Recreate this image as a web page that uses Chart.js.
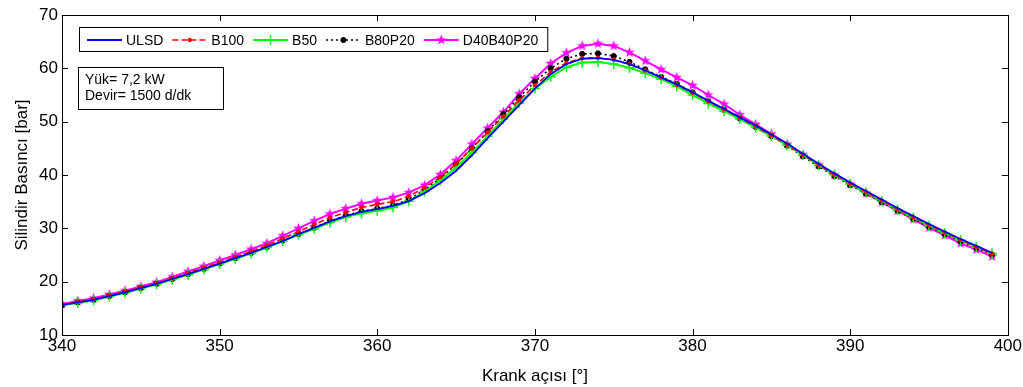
<!DOCTYPE html>
<html>
<head>
<meta charset="utf-8">
<script src="https://cdn.jsdelivr.net/npm/chart.js@4.4.1/dist/chart.umd.min.js"></script>
<style>
  html, body { margin: 0; padding: 0; background: #fff; }
  #wrap { width: 1023px; height: 387px; position: relative; }
</style>
</head>
<body>
<div id="wrap"><canvas id="pressureChart"></canvas></div>
<script>
"use strict";

// crank angle [deg]
const crankAngle = [340, 341, 342, 343, 344, 345, 346, 347, 348, 349,
  350, 351, 352, 353, 354, 355, 356, 357, 358, 359,
  360, 361, 362, 363, 364, 365, 366, 367, 368, 369,
  370, 371, 372, 373, 374, 375, 376, 377, 378, 379,
  380, 381, 382, 383, 384, 385, 386, 387, 388, 389,
  390, 391, 392, 393, 394, 395, 396, 397, 398, 399];

// cylinder pressure [bar]
const ulsd = [15.6, 16.1, 16.6, 17.3, 18.0, 18.8, 19.6, 20.5, 21.4, 22.4,
  23.4, 24.4, 25.4, 26.5, 27.6, 28.9, 30.1, 31.3, 32.3, 33.1,
  33.6, 34.2, 35.1, 36.6, 38.5, 40.8, 43.7, 46.9, 50.0, 53.1,
  56.2, 58.9, 60.8, 61.8, 61.9, 61.6, 60.8, 59.6, 58.3, 57.0,
  55.5, 53.9, 52.4, 50.8, 49.3, 47.6, 45.9, 44.0, 42.1, 40.3,
  38.6, 37.0, 35.4, 33.8, 32.3, 30.8, 29.4, 28.0, 26.7, 25.4];
const b100 = [15.7, 16.2, 16.7, 17.4, 18.1, 18.9, 19.7, 20.6, 21.6, 22.6,
  23.6, 24.6, 25.7, 26.8, 28.1, 29.4, 30.7, 32.0, 33.0, 33.9,
  34.5, 35.0, 36.0, 37.6, 39.6, 42.1, 45.0, 48.0, 51.0, 54.0,
  56.8, 59.3, 61.0, 61.9, 62.0, 61.6, 60.8, 59.6, 58.3, 56.9,
  55.4, 53.8, 52.3, 50.7, 49.1, 47.4, 45.7, 43.8, 41.9, 40.1,
  38.4, 36.8, 35.2, 33.6, 32.1, 30.6, 29.2, 27.8, 26.5, 25.2];
const b50 = [15.6, 16.0, 16.5, 17.2, 17.9, 18.7, 19.5, 20.4, 21.3, 22.3,
  23.3, 24.3, 25.3, 26.4, 27.6, 28.8, 29.9, 31.1, 32.1, 32.8,
  33.3, 33.9, 35.1, 36.9, 39.0, 41.4, 44.2, 47.3, 50.5, 53.5,
  56.2, 58.4, 60.2, 61.1, 61.2, 60.8, 60.1, 59.1, 58.0, 56.6,
  55.0, 53.4, 52.0, 50.5, 48.9, 47.3, 45.6, 43.7, 41.8, 40.0,
  38.3, 36.7, 35.1, 33.5, 32.0, 30.5, 29.1, 27.8, 26.5, 25.3];
const b80p20 = [15.6, 16.1, 16.6, 17.3, 18.0, 18.8, 19.6, 20.5, 21.4, 22.4,
  23.4, 24.4, 25.4, 26.5, 27.7, 28.9, 30.1, 31.4, 32.4, 33.2,
  33.7, 34.3, 35.4, 37.2, 39.4, 42.0, 45.0, 48.2, 51.4, 54.6,
  57.5, 60.0, 61.8, 62.7, 62.8, 62.3, 61.2, 59.8, 58.4, 57.1,
  55.5, 53.8, 52.2, 50.6, 49.0, 47.3, 45.5, 43.5, 41.6, 39.8,
  38.1, 36.5, 34.9, 33.3, 31.8, 30.3, 28.9, 27.6, 26.3, 25.1];
const d40b40p20 = [15.8, 16.4, 16.9, 17.6, 18.3, 19.1, 19.9, 20.9, 21.9, 22.9,
  24.0, 25.0, 26.1, 27.2, 28.6, 30.0, 31.4, 32.7, 33.7, 34.6,
  35.2, 35.8, 36.7, 38.1, 40.1, 42.7, 45.8, 48.8, 51.8, 55.2,
  58.1, 60.9, 62.9, 64.2, 64.6, 64.2, 63.0, 61.4, 59.8, 58.3,
  56.8, 55.0, 53.3, 51.3, 49.5, 47.7, 45.8, 43.8, 41.9, 40.0,
  38.3, 36.6, 34.9, 33.3, 31.7, 30.1, 28.7, 27.2, 26.0, 24.7];

const seriesNames = ["ULSD", "B100", "B50", "B80P20", "D40B40P20"];
const xTicks = [340, 350, 360, 370, 380, 390, 400];
const yTicks = [10, 20, 30, 40, 50, 60, 70];
const noteLines = ["Yük= 7,2 kW", "Devir= 1500 d/dk"];

const FONT = "'Liberation Sans', Arial, sans-serif";

// filled pentagram marker like matlab 'p'
function makeStar(color, r) {
  const c = document.createElement("canvas");
  const s = Math.ceil(r * 2 + 2);
  c.width = s; c.height = s;
  const g = c.getContext("2d");
  g.fillStyle = color;
  g.beginPath();
  for (let i = 0; i < 10; i++) {
    const rr = i % 2 === 0 ? r : r * 0.42;
    const a = -Math.PI / 2 + i * Math.PI / 5;
    const px = s / 2 + rr * Math.cos(a), py = s / 2 + rr * Math.sin(a);
    if (i === 0) g.moveTo(px, py); else g.lineTo(px, py);
  }
  g.closePath();
  g.fill();
  return c;
}
const starMarker = makeStar("#ff00ff", 5.5);

const pts = (arr) => crankAngle.map((a, i) => ({ x: a, y: arr[i] }));

const datasets = [
  { label: seriesNames[0], data: pts(ulsd), borderColor: "#0000ff", borderWidth: 1.8,
    pointRadius: 0 },
  { label: seriesNames[1], data: pts(b100), borderColor: "#ff0000", borderWidth: 1.6,
    borderDash: [6, 3], pointStyle: "circle", pointRadius: 1.8,
    pointBackgroundColor: "#ff0000", pointBorderColor: "#ff0000", pointBorderWidth: 1 },
  { label: seriesNames[2], data: pts(b50), borderColor: "#00ff00", borderWidth: 2,
    pointStyle: "cross", pointRadius: 5, pointBorderColor: "#00ff00", pointBorderWidth: 1.5 },
  { label: seriesNames[3], data: pts(b80p20), borderColor: "#000000", borderWidth: 1.6,
    borderDash: [2, 3], pointStyle: "circle", pointRadius: 2.6,
    pointBackgroundColor: "#000000", pointBorderColor: "#000000", pointBorderWidth: 1 },
  { label: seriesNames[4], data: pts(d40b40p20), borderColor: "#ff00ff", borderWidth: 2,
    pointStyle: starMarker, pointRadius: 5 },
];

// box frame, inward ticks, legend and note box
const decorPlugin = {
  id: "decor",
  afterDraw(chart) {
    const { ctx, chartArea: ca, scales } = chart;
    ctx.save();
    ctx.strokeStyle = "#000";
    ctx.lineWidth = 1;
    // ticks
    ctx.beginPath();
    xTicks.forEach((t) => {
      const px = Math.round(scales.x.getPixelForValue(t)) + 0.5;
      ctx.moveTo(px, ca.bottom); ctx.lineTo(px, ca.bottom - 6);
      ctx.moveTo(px, ca.top); ctx.lineTo(px, ca.top + 6);
    });
    yTicks.forEach((t) => {
      const py = Math.round(scales.y.getPixelForValue(t)) + 0.5;
      ctx.moveTo(ca.left, py); ctx.lineTo(ca.left + 6, py);
      ctx.moveTo(ca.right, py); ctx.lineTo(ca.right - 6, py);
    });
    ctx.stroke();
    ctx.strokeRect(Math.round(ca.left) + 0.5, Math.round(ca.top) + 0.5,
      Math.round(ca.width), Math.round(ca.height));

    // legend
    ctx.font = "14px " + FONT;
    ctx.textBaseline = "middle";
    ctx.textAlign = "left";
    const ly = 40, sampleLen = 35;
    let x = ca.left + 25;
    const items = [];
    chart.data.datasets.forEach((ds) => {
      const tw = ctx.measureText(ds.label).width;
      items.push({ ds, x, tw });
      x += sampleLen + 4 + tw + 9;
    });
    const boxL = ca.left + 17, boxR = x;
    ctx.fillStyle = "#fff";
    ctx.fillRect(boxL, 27, boxR - boxL, 24);
    ctx.strokeRect(boxL + 0.5, 27.5, boxR - boxL, 24);
    items.forEach(({ ds, x: sx }) => {
      ctx.save();
      ctx.strokeStyle = ds.borderColor;
      ctx.lineWidth = ds.borderWidth;
      ctx.setLineDash(ds.borderDash || []);
      ctx.beginPath();
      ctx.moveTo(sx, ly); ctx.lineTo(sx + sampleLen, ly);
      ctx.stroke();
      ctx.setLineDash([]);
      if (ds.pointRadius > 0) {
        ctx.fillStyle = ds.pointBackgroundColor || ds.borderColor;
        ctx.strokeStyle = ds.pointBorderColor || ds.borderColor;
        ctx.lineWidth = ds.pointBorderWidth || 1;
        Chart.helpers.drawPoint(ctx, { pointStyle: ds.pointStyle, radius: ds.pointRadius,
          rotation: 0, borderWidth: ds.pointBorderWidth || 1 }, sx + sampleLen / 2, ly);
      }
      ctx.restore();
      ctx.fillStyle = "#000";
      ctx.fillText(ds.label, sx + sampleLen + 4, ly + 1);
    });

    // note box
    ctx.font = "14px " + FONT;
    const nl = ca.left + 16, nt = 67, nw = 145, nh = 42;
    ctx.fillStyle = "#fff";
    ctx.fillRect(nl, nt, nw, nh);
    ctx.strokeRect(nl + 0.5, nt + 0.5, nw, nh);
    ctx.fillStyle = "#000";
    ctx.fillText(noteLines[0], nl + 7, nt + 13);
    ctx.fillText(noteLines[1], nl + 7, nt + 29);
    ctx.restore();
  },
};

new Chart(document.getElementById("pressureChart"), {
  type: "line",
  data: { datasets },
  options: {
    responsive: true,
    maintainAspectRatio: false,
    animation: false,
    layout: { padding: { top: 15, right: 14, left: 12, bottom: 0 } },
    plugins: { legend: { display: false }, tooltip: { enabled: false } },
    elements: { line: { tension: 0 } },
    scales: {
      x: {
        type: "linear",
        min: 340,
        max: 400,
        afterFit: (s) => { s.height = 52; },
        afterBuildTicks: (s) => { s.ticks = xTicks.map((v) => ({ value: v })); },
        grid: { display: false, drawTicks: false },
        border: { display: false },
        ticks: { color: "#000", font: { size: 17, family: FONT }, padding: 1,
          autoSkip: false, maxRotation: 0 },
        title: { display: true, text: "Krank açısı [°]", color: "#000",
          font: { size: 17, family: FONT }, padding: { top: 0, bottom: 0 } },
      },
      y: {
        min: 10,
        max: 70,
        afterFit: (s) => { s.width = 50; },
        afterBuildTicks: (s) => { s.ticks = yTicks.map((v) => ({ value: v })); },
        grid: { display: false, drawTicks: false },
        border: { display: false },
        ticks: { color: "#000", font: { size: 17, family: FONT }, padding: 4,
          autoSkip: false },
        title: { display: true, text: "Silindir Basıncı [bar]", color: "#000",
          font: { size: 17, family: FONT }, padding: { top: 0, bottom: 0 } },
      },
    },
  },
  plugins: [decorPlugin],
});
</script>
</body>
</html>
